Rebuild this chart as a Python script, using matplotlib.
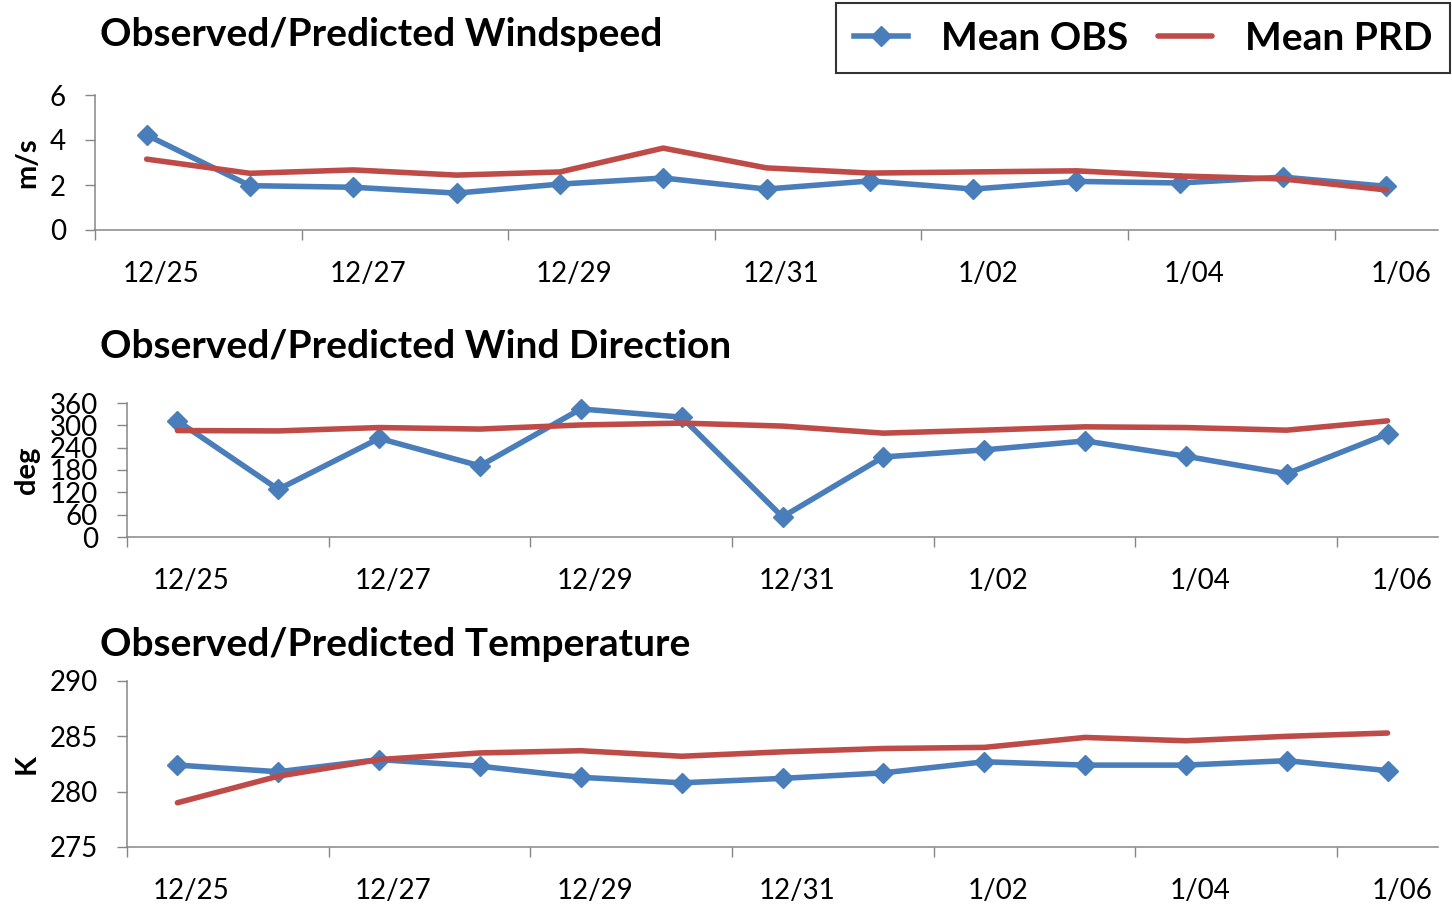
import matplotlib
matplotlib.use("Agg")
import matplotlib.pyplot as plt

plt.rcParams['font.family'] = ['Lato', 'DejaVu Sans']

dates = ["12/25", "12/26", "12/27", "12/28", "12/29", "12/30", "12/31",
         "1/01", "1/02", "1/03", "1/04", "1/05", "1/06"]

wspd_obs = [4.22, 1.97, 1.90, 1.64, 2.04, 2.31, 1.82, 2.18, 1.82, 2.16, 2.09, 2.35, 1.94]
wspd_prd = [3.15, 2.52, 2.67, 2.44, 2.58, 3.64, 2.76, 2.53, 2.58, 2.63, 2.40, 2.27, 1.78]

wdir_obs = [312, 128, 265, 191, 344, 322, 54, 215, 234, 258, 217, 170, 277]
wdir_prd = [286, 285, 294, 290, 301, 306, 298, 279, 287, 296, 294, 287, 312]

temp_obs = [282.4, 281.8, 282.9, 282.3, 281.3, 280.8, 281.2, 281.7, 282.7, 282.4, 282.4, 282.8, 281.9]
temp_prd = [279.0, 281.4, 282.9, 283.5, 283.7, 283.2, 283.6, 283.9, 284.0, 284.9, 284.6, 285.0, 285.3]

BLUE = "#4a7ebb"
RED = "#be4b48"
GRAY = "#868686"

W, H = 1452, 906
fig = plt.figure(figsize=(W / 100, H / 100), dpi=100)


def px_axes(left, right, top, bottom):
    return fig.add_axes([left / W, 1 - bottom / H, (right - left) / W, (bottom - top) / H])


panels = [
    (px_axes(95, 1438, 95, 230), wspd_obs, wspd_prd, (0, 6), [0, 2, 4, 6], "m/s",
     "Observed/Predicted Windspeed", 35),
    (px_axes(127, 1438, 403, 537), wdir_obs, wdir_prd, (0, 360), list(range(0, 361, 60)), "deg",
     "Observed/Predicted Wind Direction", 346),
    (px_axes(127, 1438, 681, 847), temp_obs, temp_prd, (275, 290), [275, 280, 285, 290], "K",
     "Observed/Predicted Temperature", 645),
]

x = list(range(len(dates)))
for ax, obs, prd, ylim, yticks, ylab, title, ty in panels:
    ax.plot(x, obs, color=BLUE, lw=4, marker="D", ms=10, solid_joinstyle="round",
            label="Mean OBS", zorder=3)
    ax.plot(x, prd, color=RED, lw=4, solid_capstyle="round", solid_joinstyle="round",
            label="Mean PRD", zorder=4)
    ax.set_xlim(-0.5, len(dates) - 0.5)
    ax.set_ylim(*ylim)
    ax.set_yticks(yticks)
    ax.tick_params(axis="y", length=7, width=1, color=GRAY, pad=14, labelsize=20)

    # tick marks between every second category, labels on every second category
    ax.set_xticks([i - 0.5 for i in range(0, len(dates), 2)])
    ax.set_xticklabels([])
    ax.tick_params(axis="x", which="major", length=7, width=1, color=GRAY)
    ax.set_xticks([i + 0.14 for i in range(0, len(dates), 2)], minor=True)
    ax.set_xticklabels(dates[::2], minor=True)
    ax.tick_params(axis="x", which="minor", length=0, pad=22, labelsize=20)

    for s in ("top", "right"):
        ax.spines[s].set_visible(False)
    for s in ("left", "bottom"):
        ax.spines[s].set_color(GRAY)
        ax.spines[s].set_linewidth(1.1)
    ax.set_facecolor("none")
    for ln in ax.lines:
        ln.set_clip_on(False)

    mid = (ax.get_position().y0 + ax.get_position().y1) / 2
    fig.text(27 / W, mid, ylab, rotation=90, ha="center", va="center",
             fontsize=21, fontweight="bold")
    fig.text(100 / W, 1 - ty / H, title, ha="left", va="center",
             fontsize=28, fontweight="bold")

handles, labels = panels[0][0].get_legend_handles_labels()
leg = fig.legend(handles, labels, loc="upper right", bbox_to_anchor=(1450 / W, 1 - 3 / H),
                 ncol=2, prop={"weight": "bold", "size": 28},
                 frameon=True, fancybox=False, edgecolor="black", handlelength=1.4,
                 handletextpad=0.85, columnspacing=0.75, borderpad=0.45, borderaxespad=0)
leg.get_frame().set_linewidth(1.5)

fig.savefig("out.png", dpi=100, facecolor="white")
